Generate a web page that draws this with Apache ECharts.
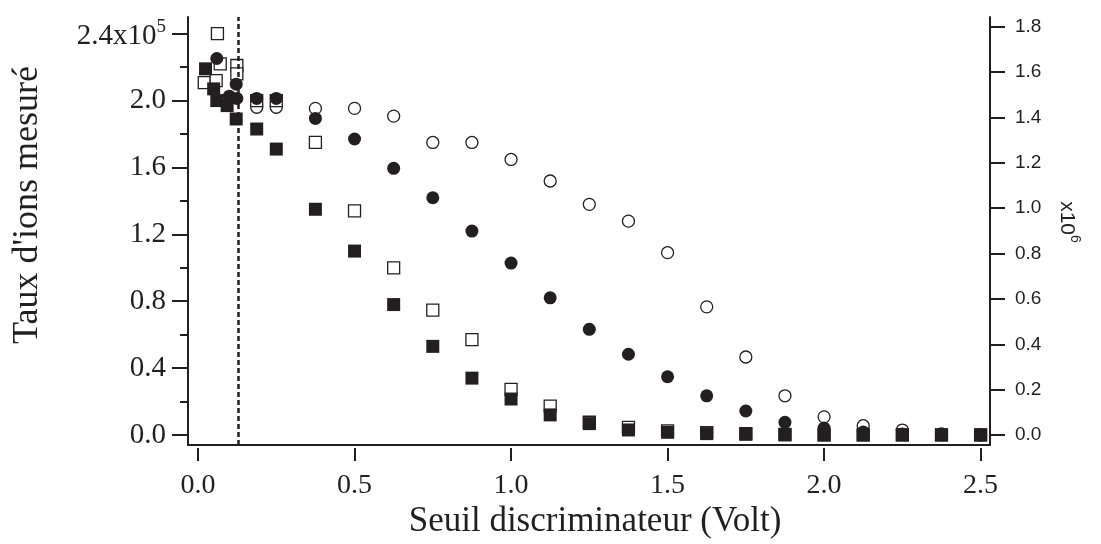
<!DOCTYPE html>
<html>
<head>
<meta charset="utf-8">
<script src="https://cdn.jsdelivr.net/npm/echarts@6/dist/echarts.min.js"></script>
<style>html,body{margin:0;padding:0;background:#fff;}#c{width:1101px;height:544px;}</style>
</head>
<body>
<div id="c"></div>
<script>
// ---- data (x in Volt; left series in units of 1e5, right series in units of 1e6) ----
const thresholdVolt = 0.128;
const xTicks = [0, 0.5, 1.0, 1.5, 2.0, 2.5];
const leftTicks = [0, 0.4, 0.8, 1.2, 1.6, 2.0, 2.4];
const leftMinorTicks = [0.2, 0.6, 1.0, 1.4, 1.8, 2.2];
const rightTicks = [0, 0.2, 0.4, 0.6, 0.8, 1.0, 1.2, 1.4, 1.6, 1.8];

const regularX = [0.1875, 0.25, 0.375, 0.5, 0.625, 0.75, 0.875, 1.0, 1.125, 1.25,
                  1.375, 1.5, 1.625, 1.75, 1.875, 2.0, 2.125, 2.25, 2.375, 2.5];

// filled squares (left axis, x1e5)
const filledSquareLowX = [0.024, 0.05, 0.06, 0.093, 0.122];
const filledSquareLowY = [2.19, 2.07, 2.00, 1.97, 1.89];
const filledSquareY = [1.83, 1.71, 1.35, 1.10, 0.78, 0.53, 0.34, 0.215, 0.12, 0.068,
                       0.03, 0.016, 0.008, 0.004, 0.0, 0.0, 0.0, 0.0, 0.0, 0.0];

// open squares (left axis, x1e5)
const openSquareLowX = [0.02, 0.058, 0.062, 0.071, 0.124, 0.124];
const openSquareLowY = [2.107, 2.12, 2.40, 2.22, 2.21, 2.16];
const openSquareY = [2.00, 2.00, 1.75, 1.34, 1.00, 0.747, 0.57, 0.273, 0.173, 0.076,
                     0.046, 0.024, 0.014, 0.008, 0.003, 0.0, 0.0, 0.0, 0.0, 0.0];

// filled circles (right axis, x1e6)
const filledCircleLowX = [0.06, 0.10, 0.122, 0.124];
const filledCircleLowY = [1.66, 1.494, 1.547, 1.484];
const filledCircleY = [1.484, 1.484, 1.396, 1.305, 1.176, 1.046, 0.899, 0.758, 0.605, 0.466,
                       0.356, 0.257, 0.173, 0.106, 0.056, 0.031, 0.013, 0.004, 0.0, 0.0];

// open circles (right axis, x1e6)
const openCircleY = [1.445, 1.445, 1.44, 1.44, 1.406, 1.29, 1.29, 1.215, 1.12, 1.017,
                     0.943, 0.804, 0.565, 0.344, 0.173, 0.08, 0.041, 0.022, 0.005, 0.0];

// ---- build ----
function pairs(xs, ys) { return xs.map((x, i) => [x, ys[i]]); }
const INK = '#231f20';
const SERIF = '"Liberation Serif", "Times New Roman", serif';
const SANS = '"Liberation Sans", Arial, sans-serif';

const filledSquares = pairs(filledSquareLowX, filledSquareLowY).concat(pairs(regularX, filledSquareY));
const openSquares = pairs(openSquareLowX, openSquareLowY).concat(pairs(regularX, openSquareY));
const filledCircles = pairs(filledCircleLowX, filledCircleLowY).concat(pairs(regularX, filledCircleY));
const openCircles = pairs(regularX, openCircleY);

const chart = echarts.init(document.getElementById('c'), null, {renderer: 'canvas'});
const option = {
  animation: false,
  backgroundColor: '#fff',
  grid: {left: 188, right: 111, top: 17, bottom: 99, containLabel: false},
  xAxis: [
    {type: 'value', min: -0.032, max: 2.53, position: 'bottom',
     axisLine: {show: true, onZero: false, lineStyle: {color: INK, width: 2}},
     axisTick: {show: false}, axisLabel: {show: false}, splitLine: {show: false}},
    {type: 'value', min: -0.032, max: 2.53, position: 'bottom', offset: 3,
     axisLine: {show: false, onZero: false},
     axisTick: {show: true, length: 13, customValues: xTicks, lineStyle: {color: INK, width: 2}},
     axisLabel: {show: true, customValues: xTicks, margin: 24, color: INK,
                 fontFamily: SERIF, fontSize: 28, formatter: v => v.toFixed(1)},
     splitLine: {show: false}}
  ],
  yAxis: [
    {type: 'value', min: -0.06, max: 2.5, position: 'left',
     axisLine: {show: true, onZero: false, lineStyle: {color: INK, width: 2}},
     axisTick: {show: true, length: 16, customValues: leftTicks, lineStyle: {color: INK, width: 2}},
     axisLabel: {show: true, customValues: leftTicks, margin: 22, color: INK,
                 fontFamily: SERIF, fontSize: 29,
                 formatter: v => Math.abs(v - 2.4) < 1e-9 ? '{b|2.4x10}{s|5}' : v.toFixed(1),
                 rich: {b: {fontFamily: SERIF, fontSize: 29, color: INK, padding: [6, 0, 0, 0]},
                        s: {fontFamily: SERIF, fontSize: 19, color: INK, padding: [0, 0, 14, 0]}}},
     splitLine: {show: false}},
    {type: 'value', min: -0.044, max: 1.843, position: 'right',
     axisLine: {show: true, onZero: false, lineStyle: {color: INK, width: 2}},
     axisTick: {show: true, length: 15, customValues: rightTicks, lineStyle: {color: INK, width: 2}},
     axisLabel: {show: true, customValues: rightTicks, margin: 25, color: INK,
                 fontFamily: SANS, fontSize: 19, formatter: v => v.toFixed(1)},
     splitLine: {show: false}},
    {type: 'value', min: -0.06, max: 2.5, position: 'left',
     axisLine: {show: false, onZero: false},
     axisTick: {show: true, length: 8, customValues: leftMinorTicks, lineStyle: {color: INK, width: 2}},
     axisLabel: {show: false}, splitLine: {show: false}}
  ],
  series: [
    {name: 'open circles', type: 'scatter', xAxisIndex: 0, yAxisIndex: 1, data: openCircles,
     symbol: 'circle', symbolSize: 12, z: 2,
     itemStyle: {color: '#fff', borderColor: INK, borderWidth: 1.3, opacity: 1}},
    {name: 'open squares', type: 'scatter', xAxisIndex: 0, yAxisIndex: 0, data: openSquares,
     symbol: 'rect', symbolSize: 12, z: 3,
     itemStyle: {color: '#fff', borderColor: INK, borderWidth: 1.3, opacity: 1},
     markLine: {silent: true, symbol: ['none', 'none'], label: {show: false},
                lineStyle: {color: INK, width: 2.5, type: [5, 3], opacity: 1},
                data: [{xAxis: thresholdVolt}]}},
    {name: 'filled squares', type: 'scatter', xAxisIndex: 0, yAxisIndex: 0, data: filledSquares,
     symbol: 'rect', symbolSize: 13, z: 4, itemStyle: {color: INK, opacity: 1}},
    {name: 'filled circles', type: 'scatter', xAxisIndex: 0, yAxisIndex: 1, data: filledCircles,
     symbol: 'circle', symbolSize: 13, z: 5, itemStyle: {color: INK, opacity: 1}}
  ],
  graphic: [
    {type: 'text', x: 28, y: 205, rotation: Math.PI / 2,
     style: {text: "Taux d'ions mesuré", font: '36px ' + SERIF, fill: INK,
             align: 'center', verticalAlign: 'middle', textAlign: 'center', textVerticalAlign: 'middle'}},
    {type: 'text', x: 595, y: 522,
     style: {text: 'Seuil discriminateur (Volt)', font: '35px ' + SERIF, fill: INK,
             align: 'center', verticalAlign: 'middle', textAlign: 'center', textVerticalAlign: 'middle'}},
    {type: 'text', x: 1070, y: 222, rotation: -Math.PI / 2,
     style: {text: '{a|x10}{b|6}', fill: INK,
             align: 'center', verticalAlign: 'middle', textAlign: 'center', textVerticalAlign: 'middle',
             rich: {a: {fontFamily: SANS, fontSize: 21, fill: INK, padding: [6, 0, 0, 0]},
                    b: {fontFamily: SANS, fontSize: 14, fill: INK, padding: [0, 0, 10, 0]}}}}
  ]
};
chart.setOption(option);
</script>
</body>
</html>
